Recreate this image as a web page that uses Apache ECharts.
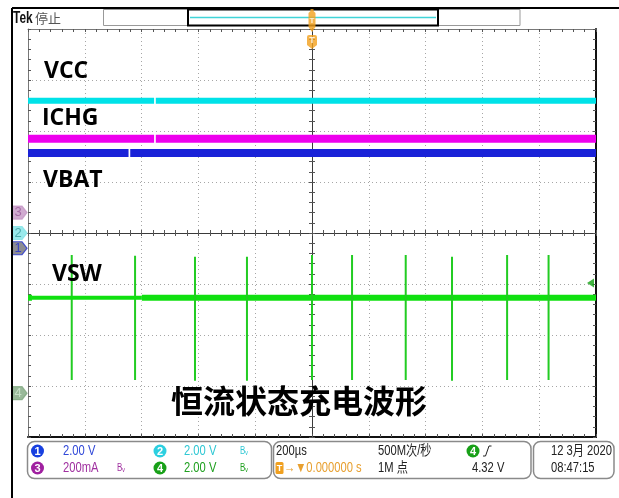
<!DOCTYPE html>
<html><head><meta charset="utf-8">
<script src="https://cdn.jsdelivr.net/npm/echarts@6/dist/echarts.min.js"></script>
<style>html,body{margin:0;padding:0;background:#fff}#c{width:619px;height:498px}</style>
</head><body><div id="c"></div>
<script>
// ---------------- data ----------------
const timeSpan = [-1000, 1000];              // µs  (200 µs/div, trigger at 0)
const timeDiv = 200;
const gratSpan = [-4, 4];                    // vertical divisions
const channelNumbers = ['1', '2', '3', '4'];
const channelNames = ['VBAT', 'VCC', 'ICHG', 'VSW'];
const channelScale = [2, 2, 200, 2];         // V/div, V/div, mA/div, V/div
const channelGround = [-0.30, 0.00, 0.40, -3.14]; // ground marker, in divisions
const vbatLevel = 3.74;                      // V
const vccLevel = 5.19;                       // V
const ichgLevel = 290;                       // mA
const vswLevel = 3.74;                       // V
const vbatDropouts = [-643];                 // µs
const vccDropouts = [-553];
const ichgDropouts = [-553];
const vswSpikeTimes = [-846, -623, -412, -229, 0, 141, 330, 493, 687, 833]; // µs
const vswSpikeHigh  = [5.42, 5.39, 5.35, 5.35, 5.42, 5.42, 5.42, 5.35, 5.42, 5.42]; // V
const vswSpikeLow   = [0.52, 0.52, 0.49, 0.49, 0.52, 0.52, 0.52, 0.49, 0.52, 0.52]; // V
const vswNarrowSpan = [-986, -599];          // µs
const triggerTime = 0;                       // µs
const triggerLevel = 4.32;                   // V

// ---------------- helpers ----------------
function flatTrace(level, dropouts) {
  const pts = [[timeSpan[0], level]];
  dropouts.forEach(t => { pts.push([t - 3, level], [t, '-'], [t + 3, level]); });
  pts.push([timeSpan[1], level]);
  return pts;
}
const spikeData = [];
vswSpikeTimes.forEach((t, i) => { spikeData.push([t, vswSpikeHigh[i]], [t, vswSpikeLow[i]], [t, '-']); });

function chAxis(i) {
  const s = channelScale[i], g = channelGround[i];
  return { type: 'value', show: false, min: (gratSpan[0] - g) * s, max: (gratSpan[1] - g) * s,
           axisLine: { onZero: false }, splitLine: { show: false } };
}
const tickCol = '#555';
function gTick(inside) { return { show: true, inside: inside, length: 3, lineStyle: { color: tickCol, width: 1 } }; }
const gMinor = { show: true, splitNumber: 5, length: 3, lineStyle: { color: tickCol, width: 1 } };
const dotted = { show: true, lineStyle: { color: '#a6a6a6', width: 1, type: [1, 3] } };
const noLabel = { show: false };

function xG(extra) {
  return Object.assign({ type: 'value', min: timeSpan[0], max: timeSpan[1], interval: timeDiv,
    axisLabel: noLabel, minorTick: gMinor, splitLine: { show: false } }, extra);
}
function yG(extra) {
  return Object.assign({ type: 'value', min: gratSpan[0], max: gratSpan[1], interval: 1,
    axisLabel: noLabel, minorTick: gMinor, splitLine: { show: false } }, extra);
}

const chColors = ['#1a22d8', '#00e2e8', '#ee00ee', '#10e010'];
const markerFill = ['#6f6f78', '#80e4e6', '#c496c4', '#7fa87f'];
const markerText = ['#2030d0', '#3a9c9c', '#9a5a9a', '#d2ead2'];
const markerStroke = ['#2030d0', '#80e4e6', '#c496c4', '#7fa87f'];

const series = [
  { type: 'line', xAxisIndex: 0, yAxisIndex: 5, data: flatTrace(vccLevel, vccDropouts),
    symbol: 'none', silent: true, lineStyle: { color: chColors[1], width: 6 } },
  { type: 'line', xAxisIndex: 0, yAxisIndex: 6, data: flatTrace(ichgLevel, ichgDropouts),
    symbol: 'none', silent: true, lineStyle: { color: chColors[2], width: 8 } },
  { type: 'line', xAxisIndex: 0, yAxisIndex: 4, data: flatTrace(vbatLevel, vbatDropouts),
    symbol: 'none', silent: true, lineStyle: { color: chColors[0], width: 8 } },
  { type: 'line', xAxisIndex: 0, yAxisIndex: 7, data: flatTrace(vswLevel, []),
    symbol: 'none', silent: true, lineStyle: { color: chColors[3], width: 6 } },
  { type: 'line', xAxisIndex: 0, yAxisIndex: 7, data: [[vswNarrowSpan[0], vswLevel], [vswNarrowSpan[1], vswLevel]],
    symbol: 'none', silent: true, lineStyle: { color: '#ffffff', width: 8 }, z: 3 },
  { type: 'line', xAxisIndex: 0, yAxisIndex: 7, data: [[vswNarrowSpan[0], vswLevel], [vswNarrowSpan[1], vswLevel]],
    symbol: 'none', silent: true, lineStyle: { color: chColors[3], width: 4 }, z: 4 },
  { type: 'line', xAxisIndex: 0, yAxisIndex: 7, data: spikeData,
    symbol: 'none', silent: true, lineStyle: { color: '#22cc22', width: 2 }, z: 3 }
];
// channel ground markers (left of the graticule)
channelNumbers.forEach((n, i) => {
  series.push({ type: 'scatter', xAxisIndex: 0, yAxisIndex: 4 + i, clip: false, silent: true, z: 6,
    data: [[timeSpan[0], 0]], symbol: 'path://M0,0 L10,0 L15,6.5 L10,13 L0,13 Z', symbolSize: [15, 13],
    symbolOffset: [-8.5, 0],
    itemStyle: { color: markerFill[i], borderColor: markerStroke[i], borderWidth: 1.2 },
    label: { show: true, position: 'inside', formatter: n, color: markerText[i], fontSize: 13,
             fontFamily: 'Liberation Sans', offset: [-1.5, 0] } });
});
// trigger level arrow (ch4) at right edge
series.push({ type: 'scatter', xAxisIndex: 0, yAxisIndex: 7, clip: false, silent: true, z: 6,
  data: [[timeSpan[1], triggerLevel]], symbol: 'path://M0,5 L7,0 L7,10 Z', symbolSize: [7, 9],
  symbolOffset: [-5.5, 0], itemStyle: { color: '#10a010' } });
// trigger position markers at top
series.push({ type: 'scatter', xAxisIndex: 0, yAxisIndex: 0, clip: false, silent: true, z: 6,
  data: [[triggerTime, gratSpan[1]]],
  symbol: 'path://M2,0 L5,0 L5,2 L7,4 L7,18 L3.5,23 L0,18 L0,4 L2,2 Z', symbolSize: [7, 23],
  symbolOffset: [0, -8.5], itemStyle: { color: '#f2a01c' },
  label: { show: true, position: 'inside', formatter: 'T', color: '#fff', fontSize: 8, fontWeight: 'bold', offset: [0, 0] } });
series.push({ type: 'scatter', xAxisIndex: 0, yAxisIndex: 0, clip: false, silent: true, z: 6,
  data: [[triggerTime, gratSpan[1]]],
  symbol: 'path://M0,2 Q0,0 2,0 L8,0 Q10,0 10,2 L10,10 L5,14 L0,10 Z', symbolSize: [10, 14],
  symbolOffset: [0, 13], itemStyle: { color: '#f2a01c' },
  label: { show: true, position: 'inside', formatter: 'T', color: '#fff', fontSize: 9, fontWeight: 'bold', offset: [0, -1] } });

// ---------------- decorations (screen chrome) ----------------
const PANELFONT = '"Liberation Sans", "Noto Sans CJK SC", sans-serif';
function txt(x, y, text, color, size, extra, sx) {
  return { type: 'text', silent: true, z: 20, x: x, y: y, scaleX: sx || 1,
    style: Object.assign({ x: 0, y: 0, text: text, fill: color,
    fontSize: size || 14, fontFamily: PANELFONT, verticalAlign: 'middle', align: 'left' }, extra || {}) };
}
function ptxt(x, y, text, color, size) { return txt(x, y, text, color, size || 14, null, 0.8); }
function circ(cx, cy, color, n) {
  return [
    { type: 'circle', silent: true, z: 20, shape: { cx: cx, cy: cy, r: 6.5 }, style: { fill: color } },
    { type: 'text', silent: true, z: 21, style: { x: cx, y: cy + 0.5, text: n, fill: '#fff', fontSize: 11,
      fontFamily: 'Liberation Sans', fontWeight: 'bold', align: 'center', verticalAlign: 'middle' } }
  ];
}
const LBL = { fontFamily: '"Open Sans", sans-serif', fontWeight: 'bold' };
const r1 = 451, r2 = 468;
const graphic = [
  { type: 'line', silent: true, z: 20, shape: { x1: 12, y1: 8, x2: 619, y2: 8 }, style: { stroke: '#000', lineWidth: 2 } },
  { type: 'line', silent: true, z: 20, shape: { x1: 12, y1: 8, x2: 12, y2: 498 }, style: { stroke: '#000', lineWidth: 2 } },
  txt(13, 18.5, 'Tek', '#111', 17, { fontWeight: 'bold' }, 0.7),
  txt(35, 18.5, '停止', '#555', 13, { fontFamily: '"Noto Sans CJK SC", sans-serif' }),
  { type: 'rect', silent: true, z: 0, shape: { x: 103.5, y: 9.5, width: 416.5, height: 16 }, style: { fill: '#fff', stroke: '#999', lineWidth: 1 } },
  { type: 'rect', silent: true, z: 0, shape: { x: 188, y: 9.5, width: 250, height: 16 }, style: { fill: '#fff', stroke: '#000', lineWidth: 2 } },
  { type: 'line', silent: true, z: 0, shape: { x1: 190, y1: 17.5, x2: 436, y2: 17.5 }, style: { stroke: '#40d4d8', lineWidth: 1.5 } },
  // plot labels
  txt(44, 71.5, 'VCC', '#000', 23, LBL),
  txt(42, 118.5, 'ICHG', '#000', 23, LBL),
  txt(43, 180, 'VBAT', '#000', 23, LBL),
  txt(52, 274.5, 'VSW', '#000', 23, LBL),
  txt(171, 401, '恒流状态充电波形', '#000', 32, { fontFamily: '"Noto Sans CJK SC", sans-serif', fontWeight: 'bold' }),
  // bottom readout panels
  { type: 'rect', silent: true, z: 19, shape: { x: 27.5, y: 441.5, width: 244, height: 37, r: 7 }, style: { fill: '#fff', stroke: '#8a8a8a', lineWidth: 1.5 } },
  { type: 'rect', silent: true, z: 19, shape: { x: 273.5, y: 441.5, width: 257.5, height: 37, r: 7 }, style: { fill: '#fff', stroke: '#8a8a8a', lineWidth: 1.5 } },
  { type: 'rect', silent: true, z: 19, shape: { x: 533.5, y: 441.5, width: 80.5, height: 37, r: 7 }, style: { fill: '#fff', stroke: '#8a8a8a', lineWidth: 1.5 } },
  ...circ(37.5, r1, '#1840e0', '1'),
  ...circ(37.5, r2, '#a020a0', '3'),
  ...circ(160, r1, '#2ccfe0', '2'),
  ...circ(160, r2, '#18a018', '4'),
  ...circ(473, r1, '#18a018', '4'),
  ptxt(63, r1, '2.00 V', '#3048d8'),
  ptxt(63, r2, '200mA', '#a030a0'),
  ptxt(184, r1, '2.00 V', '#30c8d4'),
  ptxt(184, r2, '2.00 V', '#20a020'),
  ptxt(240, r1, 'Bᵥ', '#30c8d4', 10),
  ptxt(117, r2, 'Bᵥ', '#a030a0', 10),
  ptxt(240, r2, 'Bᵥ', '#20a020', 10),
  ptxt(276, r1, '200µs', '#222'),
  ptxt(378, r1, '500M次/秒', '#222'),
  { type: 'polyline', silent: true, z: 20, shape: { points: [[483, 456], [485.5, 456], [489, 446], [491.5, 446]] }, style: { stroke: '#222', lineWidth: 1, fill: null } },
  { type: 'rect', silent: true, z: 20, shape: { x: 275.5, y: 462, width: 8, height: 12, r: 1.5 }, style: { fill: '#f0a020' } },
  { type: 'text', silent: true, z: 21, style: { x: 279.5, y: r2 + 0.5, text: 'T', fill: '#fff', fontSize: 9, fontWeight: 'bold', fontFamily: 'Liberation Sans', align: 'center', verticalAlign: 'middle' } },
  ptxt(284, r2, '→▼0.000000 s', '#e8a030'),
  ptxt(378, r2, '1M 点', '#222'),
  ptxt(472, r2, '4.32 V', '#222'),
  ptxt(551, r1, '12 3月 2020', '#222'),
  ptxt(551, r2, '08:47:15', '#222')
];

const option = {
  animation: false,
  backgroundColor: '#fff',
  grid: { left: 28, right: 23, top: 29, bottom: 61, containLabel: false },
  xAxis: [
    xG({ position: 'bottom', axisLine: { onZero: false, lineStyle: { color: '#111', width: 2 } }, axisTick: gTick(true), splitLine: dotted }),
    xG({ position: 'top', axisLine: { onZero: false, lineStyle: { color: '#777', width: 1 } }, axisTick: gTick(true) }),
    xG({ position: 'bottom', axisLine: { onZero: true, onZeroAxisIndex: 0, lineStyle: { color: '#3a3a3a', width: 1 } }, axisTick: gTick(true) }),
    xG({ position: 'bottom', axisLine: { onZero: true, onZeroAxisIndex: 0, lineStyle: { color: '#3a3a3a', width: 1 } }, axisTick: gTick(false) })
  ],
  yAxis: [
    yG({ position: 'left', axisLine: { onZero: false, lineStyle: { color: '#777', width: 1 } }, axisTick: gTick(true), splitLine: dotted }),
    yG({ position: 'right', axisLine: { onZero: false, lineStyle: { color: '#111', width: 2 } }, axisTick: gTick(true) }),
    yG({ position: 'left', axisLine: { onZero: true, onZeroAxisIndex: 0, lineStyle: { color: '#3a3a3a', width: 1 } }, axisTick: gTick(true) }),
    yG({ position: 'left', axisLine: { onZero: true, onZeroAxisIndex: 0, lineStyle: { color: '#3a3a3a', width: 1 } }, axisTick: gTick(false) }),
    chAxis(0), chAxis(1), chAxis(2), chAxis(3)
  ],
  series: series,
  graphic: graphic
};
const chart = echarts.init(document.getElementById('c'), null, { renderer: 'canvas' });
chart.setOption(option);
</script>
</body></html>
